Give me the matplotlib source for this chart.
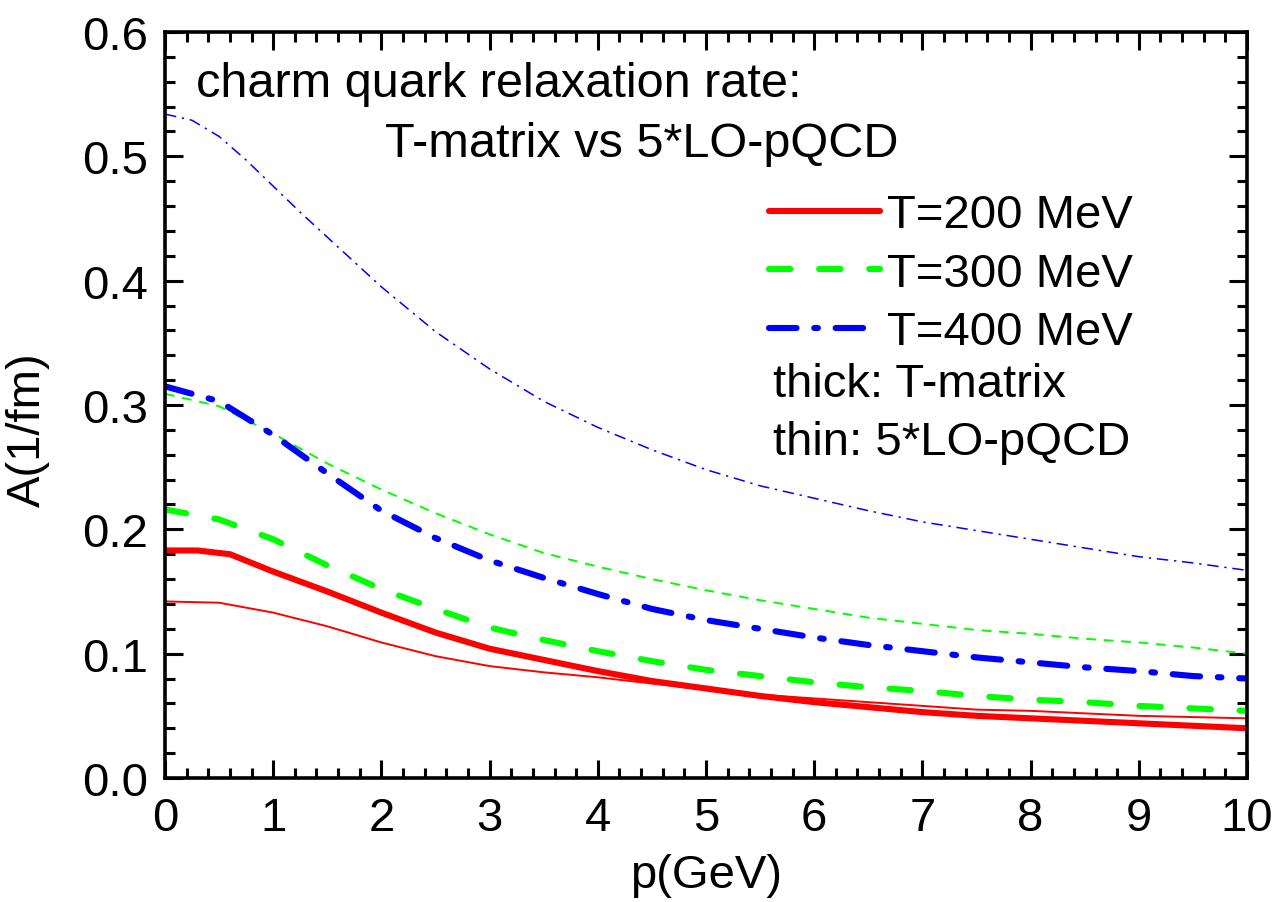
import matplotlib
matplotlib.use("Agg")
import matplotlib.pyplot as plt
from matplotlib.lines import Line2D
from matplotlib.ticker import MultipleLocator, FormatStrFormatter

plt.rcParams['font.family'] = ['Liberation Sans', 'DejaVu Sans']

# momentum grid (GeV)
p = [0.0, 0.5, 1.0, 1.5, 2.0, 2.5, 3.0, 3.5, 4.0, 4.5, 5.0,
     5.5, 6.0, 6.5, 7.0, 7.5, 8.0, 8.5, 9.0, 9.5, 10.0]
p_tm200 = [0.0, 0.3, 0.6, 1.0, 1.5, 2.0, 2.5, 3.0, 3.5, 4.0, 4.5, 5.0,
           5.5, 6.0, 6.5, 7.0, 7.5, 8.0, 8.5, 9.0, 9.5, 10.0]
p_lo400 = [0.0, 0.25, 0.5, 0.75, 1.0, 1.25, 1.5, 2.0, 2.5, 3.0, 3.5, 4.0, 4.5,
           5.0, 5.5, 6.0, 6.5, 7.0, 7.5, 8.0, 8.5, 9.0, 9.5, 10.0]

# T-matrix relaxation rates A (1/fm)
tm_200 = [0.183, 0.183, 0.180, 0.166, 0.150, 0.133, 0.117, 0.104, 0.095, 0.086,
          0.078, 0.072, 0.066, 0.061, 0.057, 0.053, 0.050, 0.048, 0.046, 0.044,
          0.042, 0.040]
tm_300 = [0.216, 0.208, 0.192, 0.171, 0.152, 0.136, 0.121, 0.111, 0.102, 0.094,
          0.087, 0.082, 0.077, 0.073, 0.070, 0.066, 0.063, 0.061, 0.058, 0.056,
          0.054]
tm_400 = [0.315, 0.303, 0.276, 0.245, 0.215, 0.193, 0.175, 0.161, 0.148, 0.136,
          0.127, 0.120, 0.113, 0.107, 0.102, 0.097, 0.093, 0.089, 0.086, 0.082,
          0.080]

# 5 x LO-pQCD relaxation rates A (1/fm)
lo_200 = [0.142, 0.141, 0.133, 0.122, 0.109, 0.098, 0.090, 0.085, 0.081, 0.076,
          0.071, 0.067, 0.064, 0.061, 0.058, 0.055, 0.054, 0.052, 0.050, 0.049,
          0.048]
lo_300 = [0.309, 0.299, 0.277, 0.253, 0.232, 0.213, 0.196, 0.181, 0.170, 0.160,
          0.151, 0.143, 0.136, 0.129, 0.124, 0.119, 0.116, 0.112, 0.109, 0.105,
          0.100]
lo_400 = [0.534, 0.529, 0.516, 0.497, 0.476, 0.455, 0.435, 0.395, 0.359, 0.329,
          0.303, 0.282, 0.264, 0.248, 0.235, 0.225, 0.215, 0.206, 0.199, 0.192,
          0.185, 0.178, 0.173, 0.167]

legend_labels = ["T=200 MeV", "T=300 MeV", "T=400 MeV"]

RED, GREEN, BLUE = "#ff0000", "#00ff00", "#0000ff"
THICK, THIN = 4.4, 1.4

thick_styles = [
    dict(color=RED, lw=THICK, ls='-', solid_capstyle='round'),
    dict(color=GREEN, lw=THICK, dashes=(3.5, 4.7), dash_capstyle='round'),
    dict(color=BLUE, lw=THICK, dashes=(4.5, 2.9, 0.6, 2.9), dash_capstyle='round'),
]
thin_styles = [
    dict(color=RED, lw=THIN, ls='-'),
    dict(color=GREEN, lw=THIN, dashes=(5, 4)),
    dict(color=BLUE, lw=1.1, dashes=(7.5, 3.8, 1.5, 3.8)),
]

fig = plt.figure(figsize=(12.78, 9.03), dpi=100)
ax = fig.add_axes([165 / 1278, 1 - 779 / 903, (1247 - 165) / 1278, (779 - 33) / 903])

for x, y, st in zip([p, p, p_lo400], [lo_200, lo_300, lo_400], thin_styles):
    ax.plot(x, y, **st)
for x, y, st in zip([p_tm200, p, p], [tm_200, tm_300, tm_400], thick_styles):
    ax.plot(x, y, **st)

ax.set_xlim(0, 10)
ax.set_ylim(0, 0.6)
ax.xaxis.set_major_locator(MultipleLocator(1))
ax.xaxis.set_minor_locator(MultipleLocator(0.2))
ax.yaxis.set_major_locator(MultipleLocator(0.1))
ax.yaxis.set_minor_locator(MultipleLocator(0.02))
ax.xaxis.set_major_formatter(FormatStrFormatter('%d'))
ax.yaxis.set_major_formatter(FormatStrFormatter('%.1f'))

ax.tick_params(which='both', direction='in', top=True, right=True, width=2.2, color='black')
ax.tick_params(which='major', length=13, labelsize=34)
ax.tick_params(axis='x', which='major', pad=13)
ax.tick_params(axis='y', which='major', pad=12)
ax.tick_params(which='minor', length=7)
for s in ax.spines.values():
    s.set_linewidth(2.6)

ax.set_xlabel("p(GeV)", fontsize=34)
ax.set_ylabel("A(1/fm)", fontsize=34)
ax.xaxis.set_label_coords(0.5, -0.100)
ax.yaxis.set_label_coords(-0.106, 0.468)

ax.text(0.0287, 0.914, "charm quark relaxation rate:", transform=ax.transAxes,
        fontsize=35, va='baseline', ha='left')
ax.text(0.203, 0.834, "T-matrix vs 5*LO-pQCD", transform=ax.transAxes,
        fontsize=35, va='baseline', ha='left')

handles = [Line2D([], [], **st) for st in thick_styles]
ax.legend(handles, legend_labels, loc='upper left', bbox_to_anchor=(0.558, 0.784),
          frameon=False, fontsize=34, handlelength=2.35, handletextpad=0.15,
          labelspacing=0.31, borderpad=0, borderaxespad=0)

ax.text(0.562, 0.528, "thick: T-matrix", transform=ax.transAxes,
        fontsize=34, va='center', ha='left')
ax.text(0.562, 0.450, "thin: 5*LO-pQCD", transform=ax.transAxes,
        fontsize=34, va='center', ha='left')

fig.savefig("out.png", dpi=100)
